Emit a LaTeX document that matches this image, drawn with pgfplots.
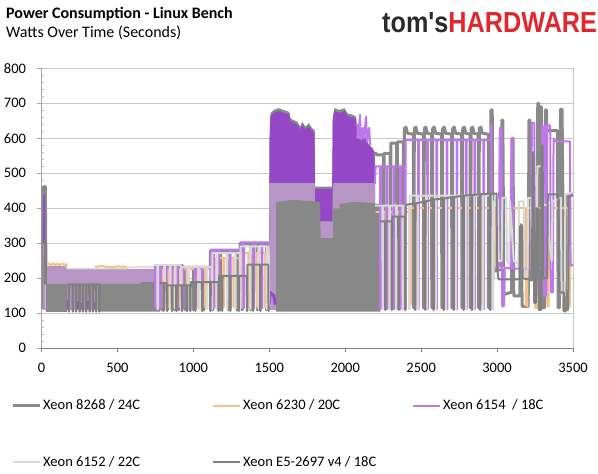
\documentclass[border=0pt]{standalone}
\usepackage{pgfplots}
\pgfplotsset{compat=1.18}
\usepackage{fontspec}
\setmainfont{Carlito}
\newfontfamily\logofont{Liberation Sans}
\definecolor{cA}{HTML}{898989}
\definecolor{cB}{HTML}{F4C085}
\definecolor{cC}{HTML}{C077EE}
\definecolor{cD}{HTML}{D9D9D9}
\definecolor{cE}{HTML}{808080}
\definecolor{fPur}{HTML}{9448C8}
\definecolor{fMau}{HTML}{B796C6}
\definecolor{fGry}{HTML}{888888}
\definecolor{gridc}{HTML}{C6C6C6}
\definecolor{logored}{HTML}{E3262E}
\begin{document}
\begin{tikzpicture}
\path[use as bounding box] (0pt,0pt) rectangle (598pt,474pt);
\node[anchor=base west, inner sep=0pt, font=\fontsize{16}{18}\selectfont\bfseries] at (6pt,455.5pt) {Power Consumption - Linux Bench};
\node[anchor=base west, inner sep=0pt, font=\fontsize{16}{18}\selectfont] at (6pt,436.2pt) {Watts Over Time (Seconds)};
\node[anchor=base west, inner sep=0pt] at (382pt,441pt) {\scalebox{0.87}[1]{\logofont\bfseries\fontsize{29}{30}\selectfont\textcolor[HTML]{2A2A2A}{tom's}\textcolor{logored}{HARDWARE}}};
\begin{axis}[
  at={(41.5pt,125.7pt)}, anchor=south west, scale only axis,
  width=531.5pt, height=280pt,
  xmin=0, xmax=3500, ymin=0, ymax=800,
  axis x line*=bottom, axis y line*=left,
  x axis line style={draw=black!50, line width=1pt, -},
  y axis line style={draw=black!35, line width=1pt, -},
  xtick={0,500,...,3500}, ytick={0,100,...,800},
  minor y tick num=4,
  tick align=outside, major tick length=4pt, minor tick length=3pt,
  xtick style={draw=black!50, line width=1pt},
  ytick style={draw=black!35, line width=0.8pt},
  minor y tick style={draw=black!25, line width=0.8pt, xshift=3pt},
  ymajorgrids, major grid style={draw=gridc, line width=1pt},
  tick label style={font=\fontsize{14.5}{16}\selectfont},
  /pgf/number format/assume math mode=true,
  /pgf/number format/1000 sep={},
  yticklabel style={xshift=-8pt},
  xticklabel style={yshift=-7pt},
  no markers,
  every axis plot/.append style={line join=round},
  legend cell align=left,
  legend columns=3,
  legend image code/.code={\draw[#1] (0pt,0pt) -- (27pt,0pt);},
  legend style={at={(-0.063,-0.169)}, anchor=north west, draw=none, fill=none,
    row sep=41pt, inner xsep=3pt, inner ysep=2pt, nodes={inner sep=2pt},
    font=\fontsize{14.5}{16}\selectfont},
]
\addlegendimage{cA, line width=3pt}
\addlegendimage{cB, line width=2pt}
\addlegendimage{cC, line width=2pt}
\addlegendimage{cD, line width=2pt}
\addlegendimage{cE, line width=2pt}
\legend{\makebox[167pt][l]{Xeon 8268 / 24C},\makebox[167pt][l]{Xeon 6230 / 20C},Xeon 6154~ / 18C,\makebox[167pt][l]{Xeon 6152 / 22C},\makebox[167pt][l]{Xeon E5-2697 v4 / 18C}}

% ---- Xeon 8268, first part (under the dense areas)
\addplot[forget plot, cA, line width=3pt] coordinates {(0,112)(5,200)(9,460)(25,462)(30,185)(780,185)};

% ---- dense areas
\addplot[forget plot, draw=none, fill=fMau] coordinates {(11,110)(11,300)(26,300)(28,110)} -- cycle;
\addplot[forget plot, draw=none, fill=fPur] coordinates {(11,300)(12,440)(23,440)(25,300)} -- cycle;
\addplot[forget plot, draw=none, fill=fMau] coordinates {(29,110)(29,236)(60,235)(100,236)(160,234)(166,227)(745,227)(745,110)} -- cycle;
\addplot[forget plot, draw=fPur, line width=2.5pt] coordinates {(175,112)(175,138)};
\addplot[forget plot, draw=fPur, line width=2.5pt] coordinates {(236,112)(236,134)};
\addplot[forget plot, draw=fPur, line width=2.5pt] coordinates {(264,112)(264,130)};
\addplot[forget plot, draw=fPur, line width=2.5pt] coordinates {(304,112)(304,136)};
\addplot[forget plot, draw=fPur, line width=2.5pt] coordinates {(347,112)(347,132)};
\addplot[forget plot, draw=none, fill=fGry] coordinates {(29,105)(29,184)(168,184)(168,105)} -- cycle;
\addplot[forget plot, draw=none, fill=fGry] coordinates {(386,105)(386,184)(650,184)(655,189)(780,189)(780,105)} -- cycle;
% region 1500-2230
\addplot[forget plot, draw=none, fill=cA] coordinates {(1498,110)(1501,600)(1507,671)(1529,681)(1562,686)(1595,681)(1628,676)(1636,670)(1639,657)(1661,652)(1683,648)(1705,633)(1716,648)(1738,633)(1760,643)(1782,629)(1798,624)(1802,462)(1914,462)(1918,660)(1929,686)(1962,681)(1995,686)(2017,671)(2050,667)(2072,662)(2076,630)(2196,560)(2198,110)} -- cycle;
\addplot[forget plot, draw=none, fill=fPur] coordinates {(1501,470)(1503,600)(1508,663)(1529,673)(1562,678)(1595,673)(1628,668)(1636,662)(1639,649)(1661,644)(1683,640)(1705,625)(1716,640)(1738,625)(1760,635)(1782,621)(1798,616)(1801,456)(1914,455)(1918,650)(1929,678)(1962,673)(1995,678)(2017,663)(2050,659)(2072,655)(2075,629)(2085,601)(2110,591)(2130,610)(2150,582)(2180,572)(2192,560)(2196,470)(1918,470)(1914,363)(1801,363)(1801,470)} -- cycle;
\addplot[forget plot, draw=none, fill=fMau] coordinates {(1500,110)(1500,472)(1801,472)(1801,363)(1918,363)(1918,472)(2196,472)(2198,400)(1918,400)(1918,300)(1801,300)(1801,400)(1545,400)(1545,110)} -- cycle;
\addplot[forget plot, draw=none, fill=fGry] coordinates {(1543,105)(1545,418)(1600,421)(1650,424)(1700,423)(1750,421)(1800,420)(1835,418)(1838,315)(1960,315)(1963,412)(2050,418)(2150,416)(2229,412)(2231,105)} -- cycle;

% ---- edges of the dense area 0-780
\addplot[forget plot, cD, line width=1.5pt] coordinates {(166,228)(560,228)(580,232)(745,233)};
\addplot[forget plot, cB, line width=2pt] coordinates {(30,240)(45,243)(60,237)(75,243)(90,238)(105,242)(120,237)(135,242)(150,238)(163,241)(166,232)};
\addplot[forget plot, cB, line width=2pt] coordinates {(352,233)(400,235)(450,231)(500,234)(560,232)};

% ---- Xeon 8268 steps
\addplot[forget plot, cA, line width=3pt] coordinates {(740,236)(752,236)(753,110)(756,110)(757,236)(790,236)(791,110)(794,110)(795,236)(826,236)(827,110)(830,110)(831,236)(874,236)(875,110)(878,110)(879,236)(901,236)(902,110)(905,110)(906,236)(930,236)(931,231)(945,231)(946,110)(949,110)(950,231)(1000,231)(1001,110)(1004,110)(1005,231)(1066,231)(1067,110)(1070,110)(1071,231)(1112,231)(1113,279)(1125,279)(1126,110)(1129,110)(1130,279)(1175,279)(1176,110)(1179,110)(1180,279)(1230,279)(1231,110)(1234,110)(1235,279)(1285,279)(1286,110)(1289,110)(1290,279)(1307,279)(1308,300)(1318,300)(1319,110)(1322,110)(1323,300)(1375,300)(1376,110)(1379,110)(1380,300)(1420,300)(1421,110)(1424,110)(1425,300)(1480,300)(1481,110)(1484,110)(1485,300)(1497,300)};
\addplot[forget plot, cA, line width=3pt] coordinates {(2196,560)(2207,553)(2251,553)(2252,116)(2255,116)(2256,557)(2295,557)(2296,116)(2299,116)(2300,586)(2339,586)(2340,116)(2343,116)(2344,590)(2383,590)(2384,116)(2387,116)(2390,628)(2400,632)(2410,614)(2448,612)(2449,116)(2452,116)(2455,628)(2465,632)(2475,614)(2514,612)(2515,116)(2518,116)(2521,628)(2531,632)(2541,614)(2569,612)(2570,116)(2573,116)(2576,628)(2586,632)(2596,614)(2635,612)(2636,116)(2639,116)(2642,628)(2652,632)(2662,614)(2701,612)(2702,116)(2705,116)(2708,628)(2718,632)(2728,614)(2767,612)(2768,116)(2771,116)(2774,628)(2784,632)(2794,614)(2822,612)(2823,116)(2826,116)(2829,628)(2839,632)(2849,614)(2876,612)(2877,116)(2880,116)(2883,628)(2893,632)(2903,614)(2942,612)(2943,116)(2950,116)(2960,681)(2968,681)(2975,220)(3025,225)(3032,652)(3038,652)(3045,154)(3095,160)(3100,600)(3105,600)(3110,150)(3150,150)(3155,353)(3160,353)(3165,120)(3205,120)(3210,652)(3216,652)(3222,195)(3262,200)(3268,700)(3274,700)(3280,116)(3285,690)(3292,690)(3298,116)(3313,116)(3318,681)(3325,681)(3328,622)(3398,622)(3402,116)(3410,116)(3418,683)(3428,683)(3440,107)(3452,107)(3458,434)(3500,438)};

% ---- Xeon 6230 steps
\addplot[forget plot, cB, line width=2pt] coordinates {(740,228)(758,228)(759,118)(762,118)(763,228)(798,228)(799,118)(802,118)(803,228)(835,228)(836,118)(839,118)(840,228)(868,228)(869,118)(872,118)(873,228)(912,228)(913,118)(916,118)(917,226)(956,226)(957,118)(960,118)(961,226)(1022,226)(1023,118)(1026,118)(1027,226)(1077,226)(1078,118)(1081,118)(1082,226)(1112,226)(1113,118)(1116,118)(1117,258)(1142,258)(1143,118)(1146,118)(1147,258)(1197,258)(1198,118)(1201,118)(1202,258)(1263,258)(1264,118)(1267,118)(1268,258)(1305,258)(1306,118)(1309,118)(1310,273)(1325,273)(1326,118)(1329,118)(1330,273)(1362,273)(1363,118)(1366,118)(1367,273)(1417,273)(1418,118)(1421,118)(1422,273)(1472,273)(1473,118)(1476,118)(1477,273)(1494,273)(1497,120)};
\addplot[forget plot, cB, line width=2pt] coordinates {(2200,390)(2240,390)(2241,125)(2252,125)(2253,390)(2285,390)(2286,125)(2297,125)(2298,390)(2330,390)(2331,125)(2342,125)(2343,390)(2372,390)(2373,125)(2384,125)(2385,390)(2420,390)(2421,125)(2432,125)(2433,401)(2470,401)(2471,125)(2482,125)(2483,401)(2530,401)(2531,125)(2542,125)(2543,401)(2590,401)(2591,125)(2602,125)(2603,401)(2655,401)(2656,125)(2667,125)(2668,401)(2720,401)(2721,125)(2732,125)(2733,401)(2785,401)(2786,125)(2797,125)(2798,401)(2840,401)(2841,125)(2852,125)(2853,401)(2900,401)(2901,125)(2912,125)(2913,401)(2955,401)(2956,125)(2967,125)(2968,401)(2990,401)(2993,230)(3100,230)(3103,401)(3190,401)(3191,120)(3200,120)(3201,401)(3250,401)(3251,115)(3260,115)(3261,401)(3330,401)(3331,120)(3340,120)(3341,401)(3470,401)(3471,120)(3480,120)(3481,440)(3500,440)};

% ---- Xeon 6154 steps
\addplot[forget plot, cC, line width=2pt] coordinates {(740,229)(747,229)(748,115)(751,115)(752,229)(780,229)(781,115)(784,115)(785,229)(818,229)(819,115)(822,115)(823,229)(857,229)(858,115)(861,115)(862,229)(890,229)(891,115)(894,115)(895,229)(930,229)(931,115)(934,115)(935,233)(1011,233)(1012,115)(1015,115)(1016,233)(1055,233)(1056,115)(1059,115)(1060,233)(1112,233)(1113,115)(1116,115)(1117,282)(1131,282)(1132,115)(1135,115)(1136,282)(1164,282)(1165,115)(1168,115)(1169,282)(1241,282)(1242,115)(1245,115)(1246,282)(1305,282)(1306,115)(1309,115)(1310,303)(1329,303)(1330,115)(1333,115)(1334,303)(1395,303)(1396,115)(1399,115)(1400,303)(1450,303)(1451,115)(1454,115)(1455,303)(1494,303)(1496,140)};
\addplot[forget plot, fPur, line width=3pt] coordinates {(1500,125)(1505,160)(1530,150)(1540,125)};
\addplot[forget plot, cC, line width=2pt] coordinates {(2080,600)(2085,640)(2090,600)(2097,667)(2104,600)(2118,630)(2124,600)(2137,662)(2144,590)(2158,630)(2164,580)};
\addplot[forget plot, cC, line width=2pt] coordinates {(2196,470)(2200,520)(2230,520)(2231,112)(2234,112)(2235,520)(2273,520)(2274,112)(2277,112)(2278,520)(2317,520)(2318,112)(2321,112)(2322,520)(2361,520)(2362,112)(2365,112)(2366,520)(2393,520)(2394,112)(2397,112)(2398,595)(2480,595)(2481,112)(2484,112)(2485,595)(2540,595)(2541,112)(2544,112)(2545,595)(2600,595)(2601,112)(2604,112)(2605,595)(2668,595)(2669,112)(2672,112)(2673,595)(2733,595)(2734,112)(2737,112)(2738,595)(2795,595)(2796,112)(2799,112)(2800,595)(2850,595)(2851,112)(2854,112)(2855,595)(2910,595)(2911,112)(2914,112)(2915,595)(2960,595)(2962,640)(2964,112)(2970,112)(2975,230)(3010,230)(3018,630)(3028,630)(3033,120)(3045,120)(3050,230)(3090,228)(3094,600)(3100,600)(3104,228)(3225,228)(3229,645)(3245,645)(3249,150)(3260,150)(3264,230)(3295,230)(3299,640)(3310,150)(3315,635)(3325,150)(3330,640)(3350,635)(3354,160)(3368,160)(3372,600)(3385,591)(3480,591)(3484,235)(3500,240)};

% ---- Xeon 6152 steps
\addplot[forget plot, cD, line width=2pt] coordinates {(740,238)(763,238)(764,112)(767,112)(768,238)(808,238)(809,112)(812,112)(813,238)(846,238)(847,112)(850,112)(851,238)(879,238)(880,112)(883,112)(884,238)(918,238)(919,112)(922,112)(923,233)(967,233)(968,112)(971,112)(972,233)(1033,233)(1034,112)(1037,112)(1038,233)(1088,233)(1089,112)(1092,112)(1093,233)(1120,233)(1121,112)(1124,112)(1125,273)(1153,273)(1154,112)(1157,112)(1158,273)(1219,273)(1220,112)(1223,112)(1224,273)(1274,273)(1275,112)(1278,112)(1279,273)(1307,273)(1308,112)(1311,112)(1312,291)(1373,291)(1374,112)(1377,112)(1378,291)(1428,291)(1429,112)(1432,112)(1433,291)(1483,291)(1484,112)(1487,112)(1488,291)(1496,291)(1500,120)};
\addplot[forget plot, cD, line width=2pt] coordinates {(2196,408)(2245,408)(2246,112)(2249,112)(2250,408)(2290,408)(2291,112)(2294,112)(2295,408)(2335,408)(2336,112)(2339,112)(2340,408)(2378,408)(2379,112)(2382,112)(2383,408)(2420,408)(2421,112)(2424,112)(2425,436)(2475,436)(2476,112)(2479,112)(2480,436)(2535,436)(2536,112)(2539,112)(2540,436)(2595,436)(2596,112)(2599,112)(2600,436)(2660,436)(2661,112)(2664,112)(2665,436)(2725,436)(2726,112)(2729,112)(2730,436)(2790,436)(2791,112)(2794,112)(2795,436)(2845,436)(2846,112)(2849,112)(2850,436)(2905,436)(2906,112)(2909,112)(2910,436)(2965,436)(2967,112)(2975,112)(2980,420)(3005,425)(3010,250)(3030,250)(3035,430)(3060,430)(3065,250)(3080,240)(3085,420)(3110,250)(3140,240)(3145,420)(3175,420)(3180,200)(3200,210)(3205,430)(3225,430)(3230,250)(3260,250)(3265,520)(3300,520)(3305,410)(3340,410)(3345,300)(3360,250)(3365,420)(3420,430)(3425,150)(3445,150)(3450,440)(3500,445)};

% ---- Xeon E5-2697 v4
\addplot[forget plot, cE, line width=2pt] coordinates {(20,183)(22,310)(27,310)(29,183)};
\addplot[forget plot, cE, line width=2pt] coordinates {(168,183)(178,183)(179,105)(182,105)(183,183)(204,183)(205,105)(208,105)(209,183)(226,183)(227,105)(230,105)(231,183)(248,183)(249,105)(252,105)(253,183)(270,183)(271,105)(274,105)(275,183)(292,183)(293,105)(296,105)(297,183)(314,183)(315,105)(318,105)(319,183)(336,183)(337,105)(340,105)(341,183)(357,183)(358,105)(361,105)(362,183)(379,183)(380,105)(383,105)(384,183)(388,183)};
\addplot[forget plot, cE, line width=2pt] coordinates {(780,186)(802,186)(803,107)(806,107)(807,186)(824,186)(825,107)(828,107)(829,180)(857,180)(858,107)(861,107)(862,180)(886,180)(887,107)(890,107)(891,180)(923,180)(924,107)(927,107)(928,180)(956,180)(957,107)(960,107)(961,180)(978,180)(979,107)(982,107)(983,189)(1011,189)(1012,107)(1015,107)(1016,189)(1055,189)(1056,107)(1059,107)(1060,189)(1110,189)(1111,107)(1114,107)(1115,189)(1164,189)(1165,107)(1168,107)(1169,207)(1187,207)(1188,107)(1191,107)(1192,207)(1241,207)(1242,107)(1245,107)(1246,207)(1296,207)(1297,107)(1300,107)(1301,207)(1351,207)(1352,107)(1355,107)(1356,239)(1391,239)(1392,107)(1395,107)(1396,239)(1439,239)(1440,107)(1443,107)(1444,239)(1494,239)(1495,107)(1500,107)};
\addplot[forget plot, cE, line width=2pt] coordinates {(2229,363)(2262,363)(2263,110)(2266,110)(2267,363)(2305,363)(2306,110)(2309,110)(2310,376)(2349,376)(2350,110)(2353,110)(2354,376)(2393,376)(2394,110)(2397,110)(2398,410)(2458,414)(2459,110)(2462,110)(2463,414)(2524,419)(2525,110)(2528,110)(2529,420)(2579,424)(2580,110)(2583,110)(2584,425)(2645,428)(2646,110)(2649,110)(2650,428)(2711,432)(2712,110)(2715,110)(2716,432)(2777,436)(2778,110)(2781,110)(2782,436)(2832,438)(2833,110)(2836,110)(2837,438)(2886,440)(2887,110)(2890,110)(2891,440)(2952,442)(2953,110)(2956,110)(2957,442)(2997,442)(2999,230)(3010,197)(3125,197)(3148,197)(3150,348)(3165,348)(3168,200)(3230,195)(3234,560)(3240,560)(3244,130)(3255,130)(3259,400)(3270,400)(3274,110)(3290,110)(3294,580)(3300,580)(3304,200)(3330,200)(3334,440)(3400,440)(3405,420)(3410,160)(3440,160)(3444,110)(3468,110)(3472,430)(3500,440)};
\end{axis}
\draw[gridc, line width=1pt] (573pt,125.7pt) -- (573pt,405.7pt);
\end{tikzpicture}
\end{document}
